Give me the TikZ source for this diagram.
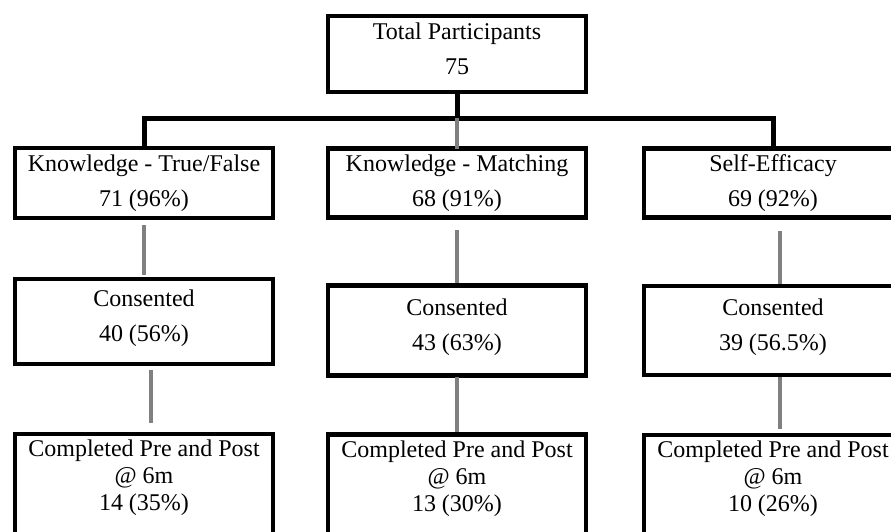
\documentclass[tikz,border=0pt]{standalone}
\usepackage{fontspec}
\setmainfont{Liberation Serif}
\usepackage{tikz}
\usetikzlibrary{calc,positioning}
\tikzset{
    x=1pt,y=1pt,outer sep=0pt,
    box/.style ={rectangle, draw, line width=4.5pt, minimum width=258pt, align=center, inner sep=6pt, font=\fontsize{24}{35}\selectfont},
    tall/.style = {box, text depth=50pt, font=\fontsize{24}{27}\selectfont},
    tie/.style = {line width=5pt},
    link/.style = {line width=3.5pt, draw=gray}
}
\begin{document}
\begin{tikzpicture}
    \useasboundingbox (0,0) rectangle (891,531);
    \node[box, minimum height=76pt, text depth=10pt] (total) at (457,477) {Total Participants\\75};
    \node[box, minimum height=70pt] (k1) at (144,348) {Knowledge - True/False\\71 (96\%)};
    \node[box, minimum height=68pt] (k2) at (457,348) {Knowledge - Matching\\68 (91\%)};
    \node[box, minimum height=67pt] (k3) at (773,348) {Self-Efficacy\\69 (92\%)};
    \node[box, minimum height=85pt, text depth=11pt] (c1) [below=61pt of k1] {Consented\\40 (56\%)};
    \node[box, minimum height=90pt, text depth=11pt] (c2) [below=68pt of k2] {Consented\\43 (63\%)};
    \node[box, minimum height=89pt, text depth=11pt] (c3) [below=68.5pt of k3] {Consented\\39 (56.5\%)};
    \node[tall] (p1) [below=70pt of c1] {Completed Pre and Post\\@ 6m\\14 (35\%)};
    \node[tall] (p2) [below=59pt of c2] {Completed Pre and Post\\@ 6m\\13 (30\%)};
    \node[tall] (p3) [below=60pt of c3] {Completed Pre and Post\\@ 6m\\10 (26\%)};
    \coordinate (bus) at (457,412.5);

    \draw[tie] (total) -- (bus);
    \draw[tie] (bus) -| (k1);
    \draw[tie] (bus) -| (k3);
    \path[link] (bus) edge (k2);
    \path[link] (k1) edge[shorten <=7pt, shorten >=4pt] (c1);
    \path[link] ([xshift=7pt]c1.south) edge[shorten <=6pt, shorten >=11pt] ([xshift=7pt]p1.north);
    \path[link] (k2) edge[shorten <=13pt, shorten >=2pt] (c2);
    \path[link] (c2) edge[shorten <=2pt, shorten >=2pt] (p2);
    \path[link] ([xshift=7pt]k3.south) edge[shorten <=13.5pt, shorten >=2pt] ([xshift=7pt]c3.north);
    \path[link] ([xshift=7pt]c3.south) edge[shorten <=2pt, shorten >=6pt] ([xshift=7pt]p3.north);
\end{tikzpicture}
\end{document}
